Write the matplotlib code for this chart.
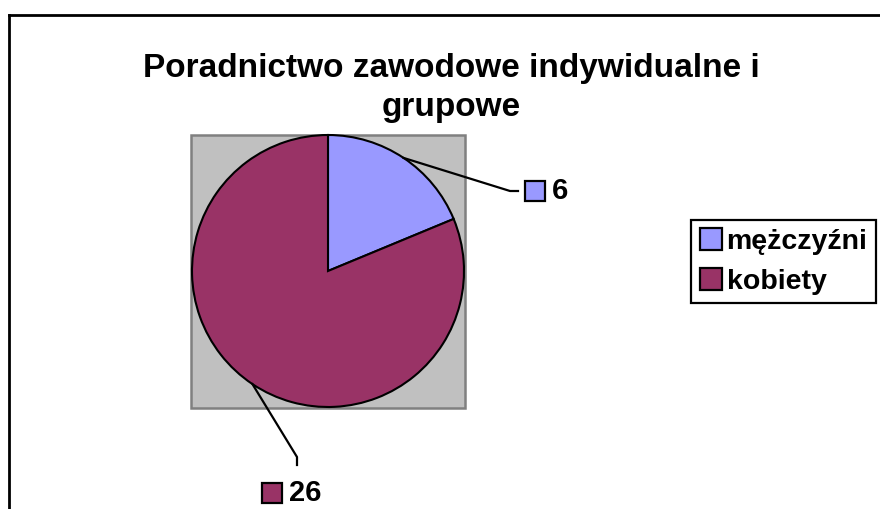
import matplotlib
matplotlib.use("Agg")
import matplotlib.pyplot as plt
from matplotlib.patches import Rectangle
from matplotlib.lines import Line2D
import numpy as np

plt.rcParams['font.family'] = ['Liberation Sans', 'DejaVu Sans']

title = "Poradnictwo zawodowe indywidualne i\ngrupowe"
labels = ["mężczyźni", "kobiety"]
values = [6, 26]
colors = ["#9999FF", "#993366"]

W, H = 880, 509
fig = plt.figure(figsize=(W / 100, H / 100), dpi=100)
ax = fig.add_axes([0, 0, 1, 1])

def py(y):
    # pixel row (from top) -> data y
    return H - y

# chart area frame (right/bottom edges fall outside the picture)
ax.plot([9, 9], [py(509), py(15)], color="black", lw=2, solid_capstyle="projecting")
ax.plot([9, 880], [py(15), py(15)], color="black", lw=2, solid_capstyle="projecting")

# plot area
ax.add_patch(Rectangle((191, py(408)), 274, 273, facecolor="#C0C0C0",
                       edgecolor="#808080", lw=1.8, zorder=1))

cx, cy, r = 328, py(271), 136
wedges, _ = ax.pie(values, colors=colors, startangle=90, counterclock=False,
                   center=(cx, cy), radius=r,
                   wedgeprops=dict(edgecolor="black", linewidth=1.5))
for w in wedges:
    w.set_zorder(2)

# data labels with leader lines
elbows = [((510, 191), (518, 191)), ((297, 457), (297, 465))]
marks = [(535, 191), (272, 493)]
for w, v, c, (e1, e2), (mx, my) in zip(wedges, values, colors, elbows, marks):
    mid = np.deg2rad((w.theta1 + w.theta2) / 2)
    sx, sy = cx + r * np.cos(mid), cy + r * np.sin(mid)
    ax.plot([sx, e1[0], e2[0]], [sy, py(e1[1]), py(e2[1])], color="black", lw=1.6, zorder=3)
    ax.plot([mx], [py(my)], marker="s", ms=14, mfc=c, mec="black", mew=1.6, ls="none", zorder=3)
    ax.text(mx + 17, py(my), str(v), fontsize=21, fontweight="bold", va="center", ha="left")

ax.text(451, py(88), title, fontsize=24, fontweight="bold", ha="center", va="center",
        linespacing=1.35)

handles = [Line2D([], [], marker="s", ls="none", ms=15.5, mfc=c, mec="black", mew=1.6)
           for c in colors]
leg = ax.legend(handles, labels, loc="upper left", bbox_to_anchor=(691 / W, 1 - 220 / H),
                prop=dict(weight="bold", size=20.5), frameon=True, fancybox=False,
                edgecolor="black", framealpha=1, borderpad=0.3, handlelength=0.8,
                handletextpad=0.15, labelspacing=0.5, borderaxespad=0)
leg.get_frame().set_linewidth(1.6)

ax.set_xlim(0, W)
ax.set_ylim(0, H)
ax.axis("off")

fig.savefig("out.png", dpi=100, facecolor="white")
